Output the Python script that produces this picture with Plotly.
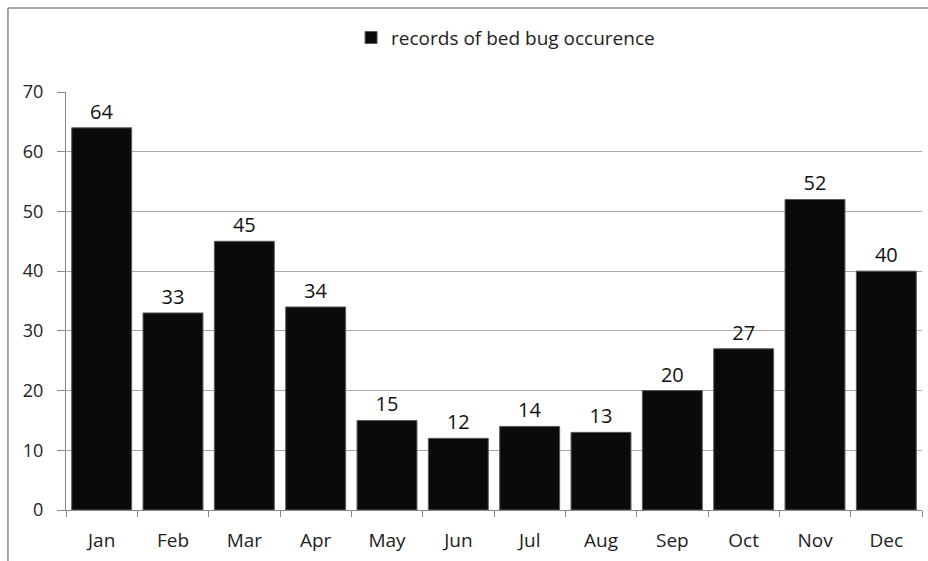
import plotly.graph_objects as go

months = ["Jan", "Feb", "Mar", "Apr", "May", "Jun", "Jul", "Aug", "Sep", "Oct", "Nov", "Dec"]
records = [64, 33, 45, 34, 15, 12, 14, 13, 20, 27, 52, 40]
series_name = "records of bed bug occurence"

FONT = "'Open Sans', sans-serif"

fig = go.Figure()
fig.add_trace(go.Bar(
    x=months, y=records, name=series_name,
    marker=dict(color="#0a0a0a", line=dict(color="#5a5a5a", width=1)),
    text=[str(v) for v in records], textposition="outside",
    textfont=dict(size=20, color="#111111", family=FONT),
    cliponaxis=False,
    showlegend=True,
))

fig.update_layout(
    width=928, height=561,
    margin=dict(l=66, r=6, t=92, b=51),
    paper_bgcolor="white", plot_bgcolor="white",
    bargap=0.16,
    font=dict(family=FONT, color="#222222"),
    showlegend=True,
    legend=dict(orientation="h", x=0.333, xanchor="left", y=1.13, yanchor="middle",
                font=dict(size=19, color="#222222", family=FONT),
                itemwidth=30, bgcolor="rgba(0,0,0,0)"),
    xaxis=dict(showline=True, linecolor="#888888", linewidth=1,
               ticks="outside", tickson="boundaries", ticklen=6, tickcolor="#888888",
               tickfont=dict(size=19, color="#222222", family=FONT),
               ticklabelstandoff=13,
               showgrid=False, fixedrange=True),
    yaxis=dict(range=[0, 70], dtick=10, showline=True, linecolor="#888888", linewidth=1,
               ticks="outside", ticklen=8, tickcolor="#888888",
               tickfont=dict(size=18, color="#222222", family=FONT),
               ticklabelstandoff=10,
               showgrid=True, gridcolor="#a8a8a8", gridwidth=1,
               zeroline=False, fixedrange=True),
    shapes=[
        dict(type="line", xref="paper", yref="paper", x0=-0.0678, x1=-0.0678, y0=1.201, y1=-0.2,
             line=dict(color="#8a8a8a", width=1.5)),
        dict(type="line", xref="paper", yref="paper", x0=-0.0678, x1=1.02, y0=1.201, y1=1.201,
             line=dict(color="#8a8a8a", width=1.5)),
    ],
)

fig.write_html("out.html", config={"displayModeBar": False},
               post_script="document.body.style.margin='0';document.body.style.overflow='hidden';")
